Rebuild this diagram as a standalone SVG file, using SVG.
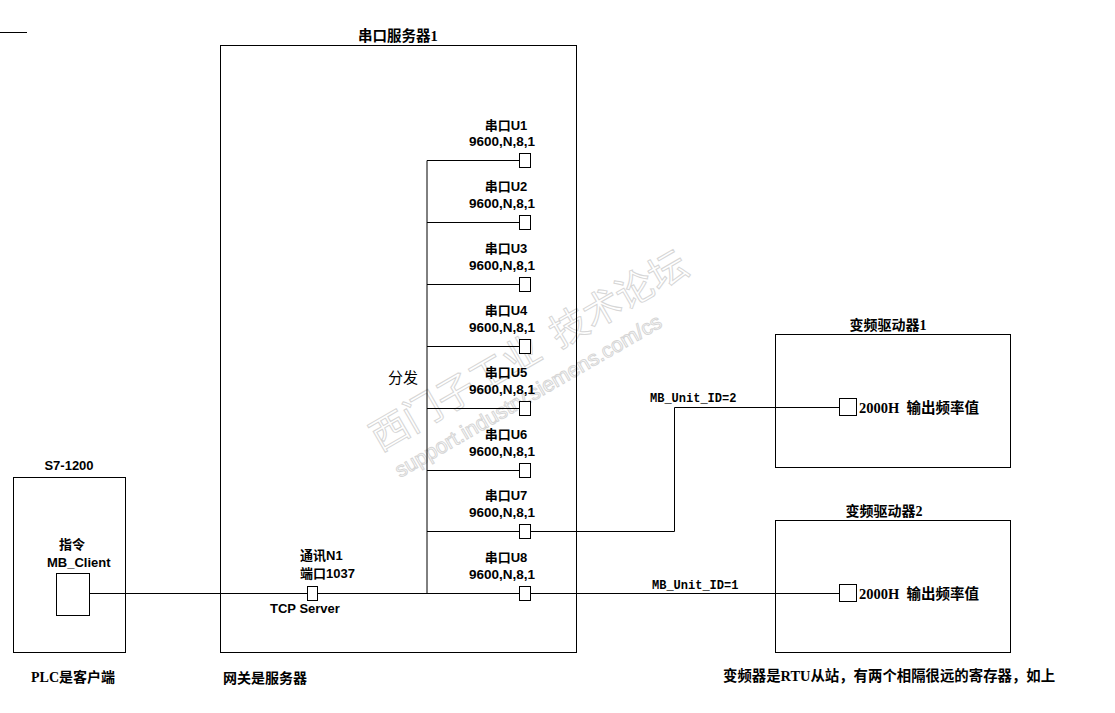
<svg xmlns="http://www.w3.org/2000/svg" width="1115" height="713" viewBox="0 0 1115 713">
<style>
.box{fill:none;stroke:#000;stroke-width:1}
.port{fill:#fff;stroke:#000;stroke-width:1}
.ln{fill:none;stroke:#000;stroke-width:1}
.a{font-family:"Liberation Sans","Noto Sans CJK SC",sans-serif;font-weight:bold;font-size:13px;fill:#000}
.s{font-family:"Liberation Serif","Noto Sans CJK SC",serif;font-weight:bold;font-size:14px;fill:#000}
.m{font-family:"Liberation Mono","Noto Sans CJK SC",monospace;font-weight:bold;font-size:12px;fill:#000}
.c{text-anchor:middle}
.wm{font-family:"Noto Sans CJK SC",sans-serif;fill:none;stroke:#d6d6d6;stroke-width:1}
</style>
<rect width="1115" height="713" fill="#fff"/>
<line class="ln" x1="0" y1="32.5" x2="27" y2="32.5"/>

<g id="watermark">
<text class="wm" font-size="38" transform="translate(380,452) rotate(-30)" style="white-space:pre">西门子工业  技术论坛</text>
<text class="wm" font-size="21" transform="translate(400,478) rotate(-30)" style="font-family:'Liberation Sans',sans-serif">support.industry.siemens.com/cs</text>
</g>

<g id="connectors">
<polyline class="ln" points="427,160.5 427,593.5"/>
<line class="ln" x1="427" y1="160.5" x2="519" y2="160.5"/>
<line class="ln" x1="427" y1="222.5" x2="519" y2="222.5"/>
<line class="ln" x1="427" y1="284.5" x2="519" y2="284.5"/>
<line class="ln" x1="427" y1="346.5" x2="519" y2="346.5"/>
<line class="ln" x1="427" y1="408.5" x2="519" y2="408.5"/>
<line class="ln" x1="427" y1="470.5" x2="519" y2="470.5"/>
<line class="ln" x1="427" y1="531.5" x2="519" y2="531.5"/>
<line class="ln" x1="89" y1="593.5" x2="519" y2="593.5"/>
<polyline class="ln" points="531,531.5 674.5,531.5 674.5,407.5 839,407.5"/>
<line class="ln" x1="531" y1="593.5" x2="839" y2="593.5"/>
<text class="m" x="650" y="402">MB_Unit_ID=2</text>
<text class="m" x="652" y="589">MB_Unit_ID=1</text>
</g>

<g id="server">
<rect class="box" x="220.5" y="45.5" width="356" height="607"/>
<text class="s" x="358" y="41" style="font-size:14.5px">串口服务器1</text>
<text class="s" x="388" y="383" style="font-weight:normal;font-size:15px;font-family:'Noto Sans CJK SC',sans-serif">分发</text>
<text class="s" x="223" y="683">网关是服务器</text>
</g>

<g id="tcp">
<rect class="port" x="307.5" y="586.5" width="10" height="14"/>
<text class="a" x="300" y="560">通讯N1</text>
<text class="a" x="300" y="578">端口1037</text>
<text class="a" x="270" y="613">TCP Server</text>
</g>

<g id="u1"><rect class="port" x="519.5" y="153.5" width="11" height="14"/><text class="a c" x="506" y="130">串口U1</text><text class="a c" x="502" y="146" style="font-size:13.5px">9600,N,8,1</text></g>
<g id="u2"><rect class="port" x="519.5" y="215.5" width="11" height="14"/><text class="a c" x="506" y="191">串口U2</text><text class="a c" x="502" y="208" style="font-size:13.5px">9600,N,8,1</text></g>
<g id="u3"><rect class="port" x="519.5" y="277.5" width="11" height="14"/><text class="a c" x="506" y="253">串口U3</text><text class="a c" x="502" y="270" style="font-size:13.5px">9600,N,8,1</text></g>
<g id="u4"><rect class="port" x="519.5" y="339.5" width="11" height="14"/><text class="a c" x="506" y="315">串口U4</text><text class="a c" x="502" y="332" style="font-size:13.5px">9600,N,8,1</text></g>
<g id="u5"><rect class="port" x="519.5" y="401.5" width="11" height="14"/><text class="a c" x="506" y="377">串口U5</text><text class="a c" x="502" y="394" style="font-size:13.5px">9600,N,8,1</text></g>
<g id="u6"><rect class="port" x="519.5" y="463.5" width="11" height="14"/><text class="a c" x="506" y="439">串口U6</text><text class="a c" x="502" y="456" style="font-size:13.5px">9600,N,8,1</text></g>
<g id="u7"><rect class="port" x="519.5" y="524.5" width="11" height="14"/><text class="a c" x="506" y="500">串口U7</text><text class="a c" x="502" y="517" style="font-size:13.5px">9600,N,8,1</text></g>
<g id="u8"><rect class="port" x="519.5" y="586.5" width="11" height="14"/><text class="a c" x="506" y="562">串口U8</text><text class="a c" x="502" y="579" style="font-size:13.5px">9600,N,8,1</text></g>

<g id="plc">
<rect class="box" x="13.5" y="477.5" width="112" height="175"/>
<rect class="port" x="56.5" y="573.5" width="33" height="42"/>
<text class="a c" x="69" y="470">S7-1200</text>
<text class="a c" x="72" y="549">指令</text>
<text class="a" x="47" y="567">MB_Client</text>
<text class="s" x="31" y="682">PLC是客户端</text>
</g>

<g id="drive1">
<rect class="box" x="775.5" y="334.5" width="235" height="133"/>
<rect class="port" x="839.5" y="398.5" width="17" height="17"/>
<text class="s c" x="888" y="330">变频驱动器1</text>
<text class="s" x="859" y="413" style="white-space:pre;font-size:14.5px">2000H  输出频率值</text>
</g>

<g id="drive2">
<rect class="box" x="775.5" y="520.5" width="235" height="132"/>
<rect class="port" x="839.5" y="584.5" width="17" height="17"/>
<text class="s c" x="884" y="516">变频驱动器2</text>
<text class="s" x="859" y="599" style="white-space:pre;font-size:14.5px">2000H  输出频率值</text>
</g>

<g id="note">
<text class="s" x="723" y="681" style="font-size:14.4px">变频器是RTU从站，有两个相隔很远的寄存器，如上</text>
</g>
</svg>
